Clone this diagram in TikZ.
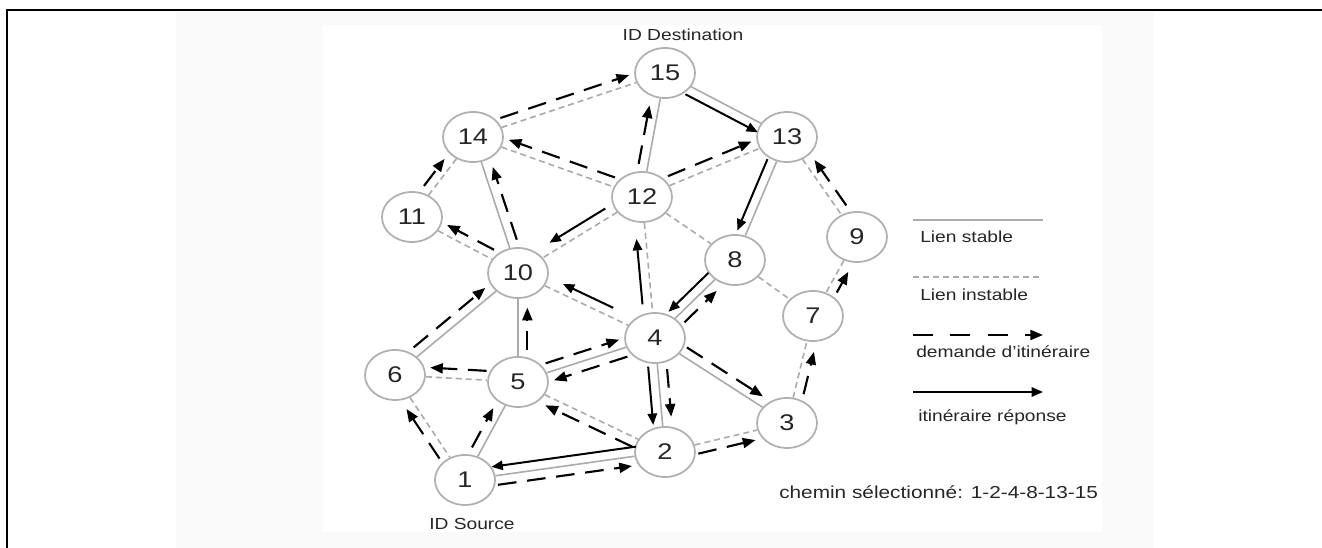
\documentclass[tikz,border=0pt]{standalone}
\usepackage{fontspec}
\setmainfont{Liberation Sans}
\usetikzlibrary{shapes.geometric,arrows.meta,calc}

\definecolor{linkgray}{HTML}{ABABAB}
\definecolor{ringgray}{HTML}{B0B0B0}
\definecolor{ink}{HTML}{262626}
\definecolor{panel}{HTML}{FAFAFA}

% horizontally widened text
\newcommand{\wide}[1]{\scalebox{1.2}[1]{#1}}
% arrow running beside the link #2--#3, shifted sideways by #4 (positive = left of travel)
\newcommand{\flow}[4]{\draw[#1] ($(#2)!#4!90:(#3)$) -- ($(#3)!#4!-90:(#2)$);}

\begin{document}
\begin{tikzpicture}[x=0.75pt,y=-0.75pt,
  nd/.style={ellipse, draw=ringgray, line width=1.3pt, fill=white,
    minimum width=45pt, minimum height=37.5pt, inner sep=0pt,
    text=ink, font=\fontsize{17}{19}\selectfont},
  stable/.style={draw=linkgray, line width=1.2pt},
  unstable/.style={draw=linkgray, line width=1.2pt, dash pattern=on 4.5pt off 3pt},
  req/.style={black, line width=1.6pt, dash pattern=on 14pt off 8pt,
    -{Triangle[length=9.5pt,width=7.5pt]}, shorten <=24pt, shorten >=26pt},
  rep/.style={black, line width=1.5pt,
    -{Triangle[length=8.5pt,width=7pt]}, shorten <=21pt, shorten >=21pt},
  lbl/.style={text=ink, font=\fontsize{12}{14}\selectfont, inner sep=0pt},
]
\useasboundingbox (0,0) rectangle (1322,548);

% background panels and frame
\fill[panel] (176,12) rectangle (1154,548);
\fill[white] (323,25) rectangle (1102,532);
\draw[line width=1.8pt] (7,548) -- (7,10) -- (1322,10);

% nodes
\node[nd] (n1)  at (465,480) {\wide{1}};
\node[nd] (n2)  at (665,452) {\wide{2}};
\node[nd] (n3)  at (787,423) {\wide{3}};
\node[nd] (n4)  at (655,338) {\wide{4}};
\node[nd] (n5)  at (518,382) {\wide{5}};
\node[nd] (n6)  at (395,375) {\wide{6}};
\node[nd] (n7)  at (813,316) {\wide{7}};
\node[nd] (n8)  at (735,260) {\wide{8}};
\node[nd] (n9)  at (857,237) {\wide{9}};
\node[nd] (n10) at (518,273) {\wide{10}};
\node[nd] (n11) at (412,217) {\wide{11}};
\node[nd] (n12) at (642,197) {\wide{12}};
\node[nd] (n13) at (787,137) {\wide{13}};
\node[nd] (n14) at (473,137) {\wide{14}};
\node[nd] (n15) at (665,73)  {\wide{15}};

% stable links
\foreach \a/\b in {15/13, 15/12, 14/10, 13/8, 8/4, 10/5, 10/6, 5/1, 5/4, 4/2, 4/3, 2/1}
  \draw[stable] (n\a) -- (n\b);
% unstable links
\foreach \a/\b in {14/15, 14/12, 12/13, 14/11, 11/10, 12/10, 12/8, 12/4, 13/9, 9/7, 8/7, 10/4, 6/5, 6/1, 5/2, 2/3, 3/7}
  \draw[unstable] (n\a) -- (n\b);

% route replies
\flow{rep}{n15}{n13}{-7pt}
\flow{rep}{n13}{n8}{-7pt}
\flow{rep}{n8}{n4}{-7pt}
\flow{rep}{n4}{n2}{-7pt}
\flow{rep}{n2}{n1}{-7pt}
\flow{rep, shorten <=28pt, shorten >=32pt}{n12}{n10}{-7pt}
\flow{rep, shorten <=38pt, shorten >=34pt}{n4}{n10}{-7pt}
\flow{rep, shorten <=26pt, shorten >=31pt}{n4}{n12}{7pt}

% route requests
\flow{req}{n14}{n15}{7pt}
\flow{req}{n12}{n15}{7pt}
\flow{req}{n12}{n14}{-7pt}
\flow{req}{n12}{n13}{7pt}
\flow{req}{n11}{n14}{7pt}
\flow{req}{n10}{n14}{-7pt}
\flow{req}{n10}{n11}{-7pt}
\flow{req}{n9}{n13}{-7pt}
\flow{req}{n7}{n9}{-7pt}
\flow{req}{n4}{n8}{-7pt}
\flow{req}{n5}{n10}{-7pt}
\flow{req}{n6}{n10}{7pt}
\flow{req}{n5}{n6}{-7pt}
\flow{req}{n1}{n6}{7pt}
\flow{req}{n1}{n5}{7pt}
\flow{req}{n5}{n4}{7pt}
\flow{req}{n4}{n5}{7pt}
\flow{req}{n2}{n5}{7pt}
\flow{req}{n4}{n2}{7pt}
\flow{req}{n4}{n3}{7pt}
\flow{req}{n1}{n2}{-7pt}
\flow{req}{n2}{n3}{-7pt}
\flow{req}{n3}{n7}{-7pt}

% endpoint labels
\node[lbl] (dest) at (683,35)  {\wide{ID Destination}};
\node[lbl] (src)  at (472,524) {\wide{ID Source}};

% legend
\coordinate (s1) at (913,220); \coordinate (s2) at (1043,220);
\coordinate (u1) at (913,277); \coordinate (u2) at (1043,277);
\coordinate (d1) at (913,335); \coordinate (d2) at (1043,335);
\coordinate (r1) at (913,392); \coordinate (r2) at (1043,392);
\draw[stable] (s1) -- (s2);
\draw[unstable] (u1) -- (u2);
\draw[req, shorten <=0pt, shorten >=0pt, dash pattern=on 15pt off 13pt] (d1) -- (d2);
\draw[rep, shorten <=0pt, shorten >=0pt] (r1) -- (r2);
\node[lbl, anchor=west] (tstable) at (920,237) {\wide{Lien stable}};
\node[lbl, anchor=west] (tunstable) at (920,295) {\wide{Lien instable}};
\node[lbl, anchor=west] (treq) at (916,352) {\wide{demande d'itinéraire}};
\node[lbl, anchor=west] (trep) at (918,417) {\wide{itinéraire réponse}};
\node[lbl, anchor=west, font=\fontsize{13}{15}\selectfont] (chosen) at (779,492)
  {\wide{chemin sélectionné: 1-2-4-8-13-15}};
\end{tikzpicture}
\end{document}
